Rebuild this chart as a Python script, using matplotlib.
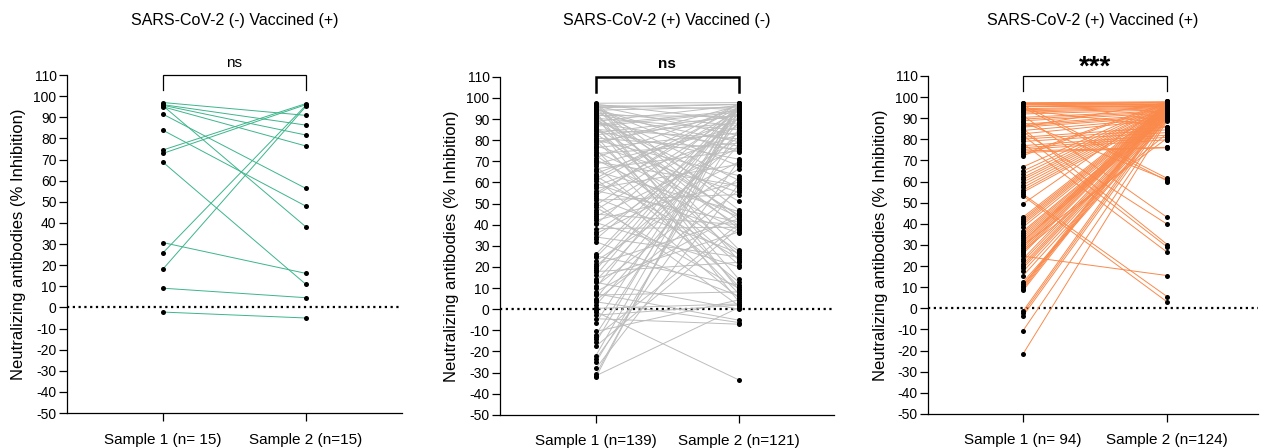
"""
Paired neutralizing antibody levels, sample 1 vs sample 2, three cohorts.
"""

import matplotlib
matplotlib.use("Agg")
import matplotlib.pyplot as plt

C_GREEN = "#3DB58B"
C_GREY = "#BDBDBD"
C_ORANGE = "#FA8A4C"

_BASE = {
  "font.family": ["Liberation Sans", "DejaVu Sans"],
  "font.size": 10,
  "axes.unicode_minus": False,
  "axes.linewidth": 0.9,
  "axes.spines.top": False,
  "axes.spines.right": False,
  "xtick.major.width": 0.9,
  "ytick.major.width": 0.9,
  "xtick.major.size": 6,
  "ytick.major.size": 5.5,
  "xtick.major.pad": 8,
  "ytick.major.pad": 2,
  "xtick.labelsize": 11,
  "ytick.labelsize": 10,
}

TITLES = ["SARS-CoV-2 (-) Vaccined (+)",
          "SARS-CoV-2 (+) Vaccined (-)",
          "SARS-CoV-2 (+) Vaccined (+)"]
XLABELS = [["Sample 1 (n= 15)", "Sample 2 (n=15)"],
           ["Sample 1 (n=139)", "Sample 2 (n=121)"],
           ["Sample 1 (n= 94)", "Sample 2 (n=124)"]]
SIG = ["ns", "ns", "***"]
YTICKS = list(range(-50, 111, 10))

# --- panel 1: SARS-CoV-2 (-) Vaccined (+), 15 pairs ---
p1_s1 = [97.0, 96.0, 95.7, 95.0, 95.5, 91.5, 83.9, 74.5, 72.9, 68.8,
         30.7, 25.8, 18.1, 9.1, -2.2]
p1_s2 = [90.9, 86.3, 81.6, 76.4, 38.1, 56.3, 47.9, 96.5, 96.0, 10.9,
         16.1, 95.7, 95.2, 4.6, -5.0]

# --- panel 2: SARS-CoV-2 (+) Vaccined (-), 121 pairs + 18 unpaired sample 1 ---
p2_s1 = [97.5, 62.0, -32.2, 95.8, 18.7, 88.9, -22.0, 40.2, 94.2, 71.8,
         10.2, 96.6, 55.0, -30.8, 86.6, 24.5, 79.2, -12.0, 91.7, 33.1,
         64.2, 97.0, 5.0, 82.6, 47.0, 93.0, 68.7, -25.0, 90.4, 13.5,
         76.5, 58.4, 96.2, 36.7, 85.1, 20.3, 92.3, 73.7, 1.9, 88.1,
         44.0, 81.0, 66.5, 94.8, 53.8, -15.6, 95.3, 26.0, 78.3, -6.5,
         60.7, 16.0, 87.4, 49.3, 83.5,
         84.3, 35.7, 57.2, 95.0, 22.8, -23.5,
         80.1, 11.0, 93.6, 42.0, -28.0, 69.8, 89.6, 4.2, 77.4, 51.6,
         91.0,
         97.2, 65.3, 8.2, 86.0, 74.6, 21.2, 96.0, 56.1, -13.0, 83.0,
         38.2, 92.0, 70.8, 14.4, 59.5, 89.2, 45.0, -17.5,
         95.5, 72.8, 52.7, 85.8, 34.2, 63.0, 97.3, 17.8, 79.6, 41.0,
         90.8, 67.6, 25.2, 81.8, 48.2, 93.3, 6.7, 75.6, 32.0, 61.8,
         -10.5, 87.0, 0.4, 50.4, -31.5, 12.7, -2.8,
         7.4, 3.5, -4.5,
         -1.2]
p2_s2 = [97.8, 97.5, 97.2, 97.0, 96.8, 96.5, 96.2, 96.0, 95.7, 95.4,
         95.0, 94.6, 94.2, 93.8, 93.3, 92.8, 92.3, 91.8, 91.2, 90.6,
         90.0, 89.4, 88.8, 88.2, 87.5, 86.9, 86.2, 85.6, 84.9, 84.2,
         83.5, 82.8, 82.1, 81.4, 80.7, 80.0, 79.3, 78.6, 77.9, 77.2,
         76.5, 75.8, 75.1, 74.4, 97.6, 97.3, 96.9, 96.6, 96.3, 95.9,
         95.5, 94.9, 94.0, 93.0, 91.5,
         71.0, 69.8, 68.6, 67.8, 66.5, 70.4,
         63.2, 62.0, 61.0, 60.2, 59.3, 58.4, 57.5, 56.4, 55.3, 54.3,
         51.0,
         47.0, 46.2, 45.3, 44.5, 43.6, 42.8, 42.0, 41.2, 40.4, 39.6,
         38.8, 38.0, 37.3, 36.6, 36.0, 44.0, 40.0, 38.5,
         28.2, 27.4, 26.5, 25.6, 24.7, 23.9, 23.0, 22.2, 21.0, 20.0,
         14.2, 12.8, 11.4, 10.6, 9.8, 9.0, 8.2, 7.3, 6.2, 5.3,
         4.4, 3.5, 2.5, 1.6, 0.8, 0.0, 2.0,
         -5.2, -6.3, -7.1,
         -33.5]
p2_s1_only = [96.9, 94.6, 92.6, 89.9, 84.8, 80.5, 77.0, 73.2, 70.3, 66.0,
              63.6, 59.0, 54.5, 46.0, 43.0, 19.6, -0.4, -14.3]
p2_s2_only = []

# --- panel 3: SARS-CoV-2 (+) Vaccined (+), 94 pairs + 30 unpaired sample 2 ---
p3_s1 = [97.3, 97.0, 96.7, 96.4, 96.1, 95.8, 95.4, 95.0, 94.5, 94.0,
         93.4, 92.8, 92.0, 91.2, 90.4, 89.6, 88.8, 88.0, 87.2, 86.5,
         85.8, 85.0, 84.2, 83.4, 82.6, 81.8, 81.0, 80.1, 79.0, 78.0,
         77.0, 76.0, 75.2, 74.5, 73.8, 73.0, 72.3, 96.9, 95.6, 93.8,
         67.0, 65.0, 63.5, 62.0, 61.0, 59.8, 58.5, 57.2, 56.0, 55.0,
         54.0, 53.2, 49.5,
         43.2, 42.3, 41.5, 40.6, 39.7, 38.5, 36.6, 35.8, 34.9, 34.0,
         33.1, 32.2, 31.3, 30.4, 29.5, 28.6, 27.7, 26.8, 25.9, 24.7,
         23.5, 22.3, 21.0, 20.0, 19.0, 17.5, 15.5, 12.5, 11.5, 10.8,
         10.0, 9.3, 8.5, 27.2, 30.0,
         -1.2, -2.3, -3.5, -10.5, -21.5, 86.0]
p3_s2 = [97.8, 97.5, 97.2, 96.8, 61.5, 96.5, 96.1, 60.3, 95.8, 95.3,
         94.9, 94.5, 94.0, 43.0, 93.5, 93.0, 92.4, 60.8, 91.8, 91.2,
         90.6, 30.2, 90.0, 39.8, 89.4, 29.0, 85.8, 84.5, 83.2, 26.5,
         82.0, 81.0, 79.8, 76.2, 76.0, 97.6, 97.0, 96.4, 95.6, 86.0,
         97.4, 96.9, 96.2, 95.9, 95.1, 94.7, 94.2, 93.7, 92.9, 92.0,
         5.5, 3.0, 97.1,
         96.6, 96.0, 95.4, 94.8, 94.3, 93.6, 93.1, 92.6, 91.9, 91.4,
         90.8, 90.2, 97.9, 97.3, 96.7, 96.3, 95.7, 95.2, 94.6, 15.5,
         94.1, 93.4, 92.7, 92.2, 91.6, 91.0, 90.4, 89.8, 89.2, 97.7,
         97.0, 96.0, 95.0, 82.8, 80.6,
         93.9, 92.5, 90.9, 89.6, 88.9, 97.5]
p3_s1_only = []
p3_s2_only = [98.0, 97.9, 97.6, 97.3, 97.0, 96.8, 96.5, 96.2, 95.9, 95.5,
              95.1, 94.6, 94.2, 93.8, 93.3, 92.8, 92.3, 91.7, 91.3, 90.7,
              90.1, 89.5, 85.2, 84.0, 82.4, 81.5, 80.2, 79.5, 76.3, 60.0]

PANELS = [
  (p1_s1, p1_s2, [], [], C_GREEN),
  (p2_s1, p2_s2, p2_s1_only, p2_s2_only, C_GREY),
  (p3_s1, p3_s2, p3_s1_only, p3_s2_only, C_ORANGE),
]

# axes boxes in figure fraction (left, bottom, width, height)
AX_POS = [(0.0530, 0.078, 0.2652, 0.7545),
          (0.3959, 0.074, 0.2645, 0.7545),
          (0.7348, 0.076, 0.2613, 0.7545)]
XLIMS = [(-0.67, 1.67), (-0.67, 1.665), (-0.66, 1.63)]


def draw_panel(ax, i):
  s1, s2, s1_only, s2_only, color = PANELS[i]

  for a, b in zip(s1, s2):
    ax.plot([0, 1], [a, b], color=color, lw=0.7, zorder=2)

  left = list(s1) + list(s1_only)
  right = list(s2) + list(s2_only)
  ax.plot([0] * len(left), left, "o", color="black", ms=3.6,
          mec="none", zorder=3, clip_on=False)
  ax.plot([1] * len(right), right, "o", color="black", ms=3.6,
          mec="none", zorder=3, clip_on=False)

  ax.axhline(0, color="black", lw=1.6, ls=(0, (1, 1.6)), zorder=1)

  ax.set_xlim(*XLIMS[i])
  ax.set_ylim(-50, 110)
  ax.set_yticks(YTICKS)
  ax.set_yticklabels([str(t) for t in YTICKS])
  ax.set_xticks([0, 1])
  ax.set_xticklabels(XLABELS[i])
  ax.set_ylabel("Neutralizing antibodies (% Inhibition)", fontsize=12)
  ax.yaxis.set_label_coords(-0.122, 0.5)

  # significance bracket
  bw = 1.8 if i == 1 else 0.9
  ax.plot([0, 0, 1, 1], [103, 110, 110, 103], color="black", lw=bw,
          clip_on=False, solid_joinstyle="miter", zorder=4)
  if SIG[i] == "***":
    ax.annotate(SIG[i], xy=(0.5, 110), xytext=(0, 1),
                textcoords="offset points", ha="center", va="baseline",
                fontsize=20, fontweight="bold", annotation_clip=False)
  else:
    ax.annotate(SIG[i], xy=(0.5, 110), xytext=(0, 6),
                textcoords="offset points", ha="center", va="baseline",
                fontsize=11, annotation_clip=False,
                fontweight="bold" if i == 1 else "normal")


with plt.rc_context(_BASE):
  fig = plt.figure(figsize=(12.63, 4.48), dpi=100)
  for i in range(3):
    ax = fig.add_axes(AX_POS[i])
    draw_panel(ax, i)
    l, b, w, h = AX_POS[i]
    fig.text(l + w / 2, 0.955, TITLES[i], ha="center", va="center",
             fontsize=11.5)
  fig.savefig("out.png", dpi=100, facecolor="white")
